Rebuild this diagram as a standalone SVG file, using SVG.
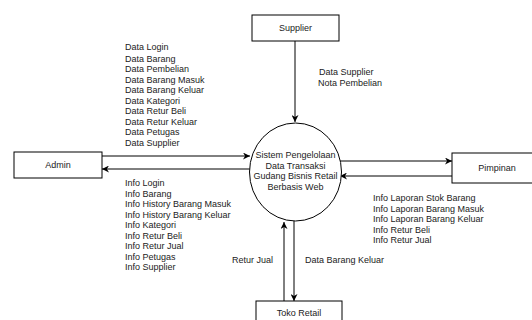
<svg xmlns="http://www.w3.org/2000/svg" width="532" height="320" viewBox="0 0 532 320">
<style>
.box{fill:#fff;stroke:#000;stroke-width:1}
.ln{fill:none;stroke:#000;stroke-width:1}
text{font-family:"Liberation Sans",Arial,sans-serif;font-size:9px;fill:#222}
.c{text-anchor:middle}
</style>
<defs>
<marker id="ah" viewBox="0 0 10 10" refX="10" refY="5" markerWidth="7" markerHeight="7" markerUnits="userSpaceOnUse" orient="auto">
<path d="M0,0 L10,5 L0,10 L3,5 Z" fill="#000"/>
</marker>
</defs>
<rect width="532" height="320" fill="#fff"/>
<g id="connectors">
<line class="ln" x1="295" y1="41" x2="295" y2="122" marker-end="url(#ah)"/>
<line class="ln" x1="102" y1="156" x2="250" y2="156" marker-end="url(#ah)"/>
<line class="ln" x1="250" y1="169" x2="102" y2="169" marker-end="url(#ah)"/>
<line class="ln" x1="338" y1="161" x2="452" y2="161" marker-end="url(#ah)"/>
<line class="ln" x1="452" y1="176" x2="340" y2="176" marker-end="url(#ah)"/>
<line class="ln" x1="284" y1="301" x2="284" y2="222" marker-end="url(#ah)"/>
<line class="ln" x1="294" y1="221" x2="294" y2="301" marker-end="url(#ah)"/>
</g>
<g id="supplier">
<rect class="box" x="252" y="15" width="87" height="26"/>
<text class="c" x="295.5" y="31">Supplier</text>
</g>
<g id="admin">
<rect class="box" x="14" y="152" width="88" height="26"/>
<text class="c" x="58" y="168">Admin</text>
</g>
<g id="pimpinan">
<rect class="box" x="452" y="153" width="90" height="30"/>
<text class="c" x="497" y="171">Pimpinan</text>
</g>
<g id="toko-retail">
<rect class="box" x="256" y="301" width="86" height="30"/>
<text class="c" x="299" y="316">Toko Retail</text>
</g>
<g id="sistem">
<ellipse class="box" cx="295.5" cy="172" rx="46" ry="49"/>
<text class="c" x="295.5" y="158">Sistem Pengelolaan</text>
<text class="c" x="295.5" y="168.5">Data Transaksi</text>
<text class="c" x="295.5" y="179">Gudang Bisnis Retail</text>
<text class="c" x="295.5" y="189.5">Berbasis Web</text>
</g>
<g id="labels">
<text x="125" y="50">Data Login</text>
<text x="125" y="61.5">Data Barang</text>
<text x="125" y="72">Data Pembelian</text>
<text x="125" y="82.5">Data Barang Masuk</text>
<text x="125" y="93">Data Barang Keluar</text>
<text x="125" y="103.5">Data Kategori</text>
<text x="125" y="114">Data Retur Beli</text>
<text x="125" y="124.5">Data Retur Keluar</text>
<text x="125" y="135">Data Petugas</text>
<text x="125" y="145.5">Data Supplier</text>
<text x="125" y="186">Info Login</text>
<text x="125" y="196.5">Info Barang</text>
<text x="125" y="207">Info History Barang Masuk</text>
<text x="125" y="217.5">Info History Barang Keluar</text>
<text x="125" y="228">Info Kategori</text>
<text x="125" y="238.5">Info Retur Beli</text>
<text x="125" y="249">Info Retur Jual</text>
<text x="125" y="259.5">Info Petugas</text>
<text x="125" y="270">Info Supplier</text>
<text x="319" y="75">Data Supplier</text>
<text x="318" y="86">Nota Pembelian</text>
<text x="373" y="201">Info Laporan Stok Barang</text>
<text x="373" y="211.5">Info Laporan Barang Masuk</text>
<text x="373" y="222">Info Laporan Barang Keluar</text>
<text x="373" y="232.5">Info Retur Beli</text>
<text x="373" y="243">Info Retur Jual</text>
<text x="232" y="263">Retur Jual</text>
<text x="305" y="263">Data Barang Keluar</text>
</g>
</svg>
